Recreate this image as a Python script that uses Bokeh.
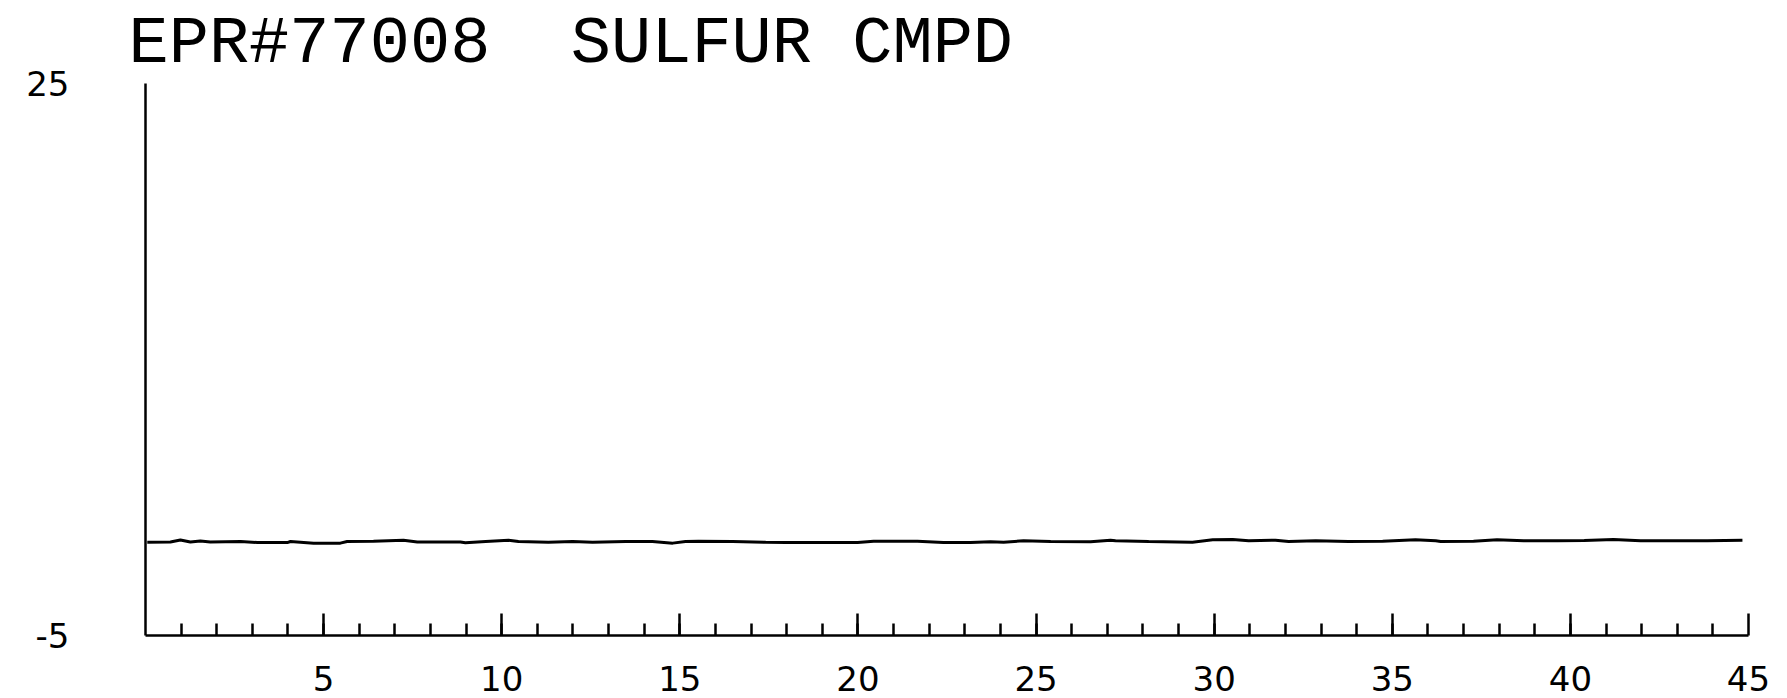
from bokeh.plotting import figure
from bokeh.models import FixedTicker, Range1d
from bokeh.embed import file_html
from bokeh.resources import INLINE

# ---- data ----
title_text = "EPR#77008 \u00a0SULFUR CMPD"
x_limits = [0, 45]
y_limits = [-5, 25]
x_major_ticks = [5, 10, 15, 20, 25, 30, 35, 40, 45]
x_minor_ticks = [i for i in range(1, 45)]
y_tick_values = [-5, 25]
y_tick_labels = ["-5", "25"]

trace_x = [0.05, 0.70, 0.98, 1.26, 1.54, 1.82, 2.67, 3.14, 3.98, 4.07, 4.72, 5.47,
           5.66, 6.40, 7.24, 7.63, 8.84, 8.98, 9.55, 10.19, 10.47, 11.31, 11.99,
           12.55, 13.48, 14.23, 14.80, 15.16, 15.52, 16.48, 17.41, 17.97, 18.11,
           19.03, 19.99, 20.44, 21.67, 22.40, 23.16, 23.72, 24.09, 24.65, 25.41,
           26.53, 27.09, 27.23, 28.16, 29.39, 29.96, 30.52, 30.97, 31.72, 32.09,
           32.85, 33.77, 34.73, 35.65, 36.22, 36.36, 37.28, 37.94, 38.69, 39.64,
           40.39, 41.21, 41.97, 42.91, 43.84, 44.83]
trace_y = [0.07, 0.08, 0.19, 0.08, 0.14, 0.08, 0.11, 0.05, 0.05, 0.11, 0.02, 0.02,
           0.11, 0.12, 0.18, 0.08, 0.08, 0.04, 0.11, 0.18, 0.11, 0.07, 0.11,
           0.07, 0.11, 0.11, 0.02, 0.11, 0.12, 0.11, 0.07, 0.05, 0.05,
           0.05, 0.05, 0.12, 0.12, 0.05, 0.05, 0.09, 0.07, 0.15, 0.11,
           0.09, 0.18, 0.15, 0.11, 0.07, 0.20, 0.22, 0.15, 0.18, 0.11,
           0.15, 0.11, 0.12, 0.20, 0.15, 0.11, 0.12, 0.20, 0.15, 0.15,
           0.16, 0.22, 0.15, 0.15, 0.15, 0.18]

# ---- figure ----
p = figure(width=1787, height=698, output_backend="svg", toolbar_location=None,
           x_range=Range1d(*x_limits), y_range=Range1d(*y_limits),
           title=title_text,
           min_border_left=145, min_border_right=39,
           min_border_top=83, min_border_bottom=63)

p.background_fill_color = "white"
p.border_fill_color = "white"
p.outline_line_color = None
p.grid.visible = False

p.title.text_font = "Liberation Mono"
p.title.text_font_size = "67px"
p.title.text_font_style = "normal"
p.title.text_color = "black"
p.title.align = "left"
p.title.offset = -17
p.title.standoff = 4

# x axis: inward ticks, labels every 5
xa = p.xaxis[0]
xa.ticker = FixedTicker(ticks=x_major_ticks, minor_ticks=x_minor_ticks)
xa.axis_line_color = "black"
xa.axis_line_width = 2.5
xa.major_tick_line_color = "black"
xa.major_tick_line_width = 2.5
xa.major_tick_in = 22
xa.major_tick_out = 0
xa.minor_tick_line_color = "black"
xa.minor_tick_line_width = 2.5
xa.minor_tick_in = 12
xa.minor_tick_out = 0
xa.major_label_text_font = "DejaVu Sans"
xa.major_label_text_font_size = "34px"
xa.major_label_text_color = "black"
xa.major_label_standoff = 30

# y axis: plain line, labels only at the range ends
ya = p.yaxis[0]
ya.ticker = FixedTicker(ticks=y_tick_values)
ya.major_label_overrides = {v: t for v, t in zip(y_tick_values, y_tick_labels)}
ya.axis_line_color = "black"
ya.axis_line_width = 2.5
ya.major_tick_line_color = None
ya.minor_tick_line_color = None
ya.major_label_text_font = "DejaVu Sans"
ya.major_label_text_font_size = "34px"
ya.major_label_text_color = "black"
ya.major_label_standoff = 70

p.line(trace_x, trace_y, line_color="black", line_width=3)

open("out.html", "w").write(file_html(p, INLINE))
